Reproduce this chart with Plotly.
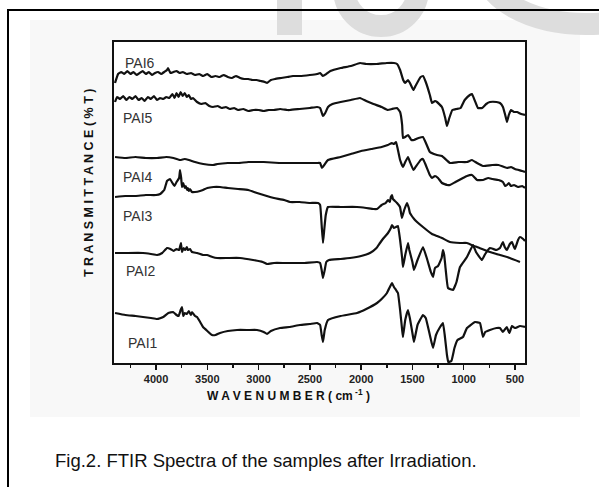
import plotly.graph_objects as go

# Wavenumber (cm-1) and curve heights (offset transmittance, plotted top-down)
pai6_wn = [4400, 4370, 4340, 4310, 4280, 4250, 4220, 4190, 4160, 4130, 4100, 4070, 4040, 4010, 3980, 3950, 3920, 3893, 3883, 3860, 3830, 3800, 3770, 3740, 3700, 3660, 3620, 3580, 3540, 3500, 3460, 3420, 3380, 3340, 3300, 3260, 3220, 3180, 3140, 3100, 3060, 3020, 2980, 2940, 2918, 2880, 2840, 2780, 2720, 2664, 2600, 2500, 2430, 2400, 2372, 2340, 2300, 2200, 2100, 2011, 1950, 1850, 1750, 1680, 1650, 1620, 1590, 1572, 1543, 1524, 1490, 1470, 1420, 1397, 1370, 1330, 1309, 1280, 1260, 1212, 1180, 1163, 1140, 1110, 1070, 1030, 990, 940, 919, 890, 861, 820, 780, 744, 680, 646, 617, 595, 578, 560, 539, 510, 480, 440, 402]
pai6_y = [83, 74, 72, 74, 71, 74, 72, 75, 73, 71, 74, 72, 75, 73, 72, 74, 72, 70, 68, 73, 72, 71, 73, 72, 74, 73, 75, 74, 76, 74, 77, 76, 77, 75, 77, 78, 76, 78, 79, 79, 80, 80, 81, 82, 83, 80, 79, 78, 77, 76, 76, 75, 74, 73, 76, 74, 71, 68, 66, 63, 64, 64, 63, 63, 64, 70, 80, 83, 80, 83, 90, 86, 77, 76, 82, 95, 103, 101, 102, 107, 118, 126, 118, 110, 109, 108, 100, 95, 94, 101, 108, 108, 104, 102, 102, 103, 107, 115, 122, 115, 110, 112, 112, 114, 115]

pai5_wn = [4400, 4380, 4350, 4320, 4290, 4260, 4230, 4200, 4170, 4140, 4110, 4080, 4050, 4020, 3990, 3960, 3930, 3900, 3870, 3840, 3820, 3800, 3780, 3760, 3740, 3720, 3700, 3680, 3660, 3640, 3600, 3560, 3520, 3480, 3444, 3400, 3360, 3320, 3280, 3240, 3200, 3150, 3100, 3050, 3000, 2950, 2900, 2850, 2790, 2720, 2694, 2600, 2500, 2430, 2400, 2372, 2350, 2323, 2280, 2200, 2100, 2011, 1950, 1880, 1800, 1740, 1700, 1650, 1620, 1600, 1592, 1570, 1543, 1510, 1485, 1440, 1397, 1360, 1330, 1290, 1260, 1212, 1134, 1050, 968, 919, 870, 812, 720, 660, 578, 540, 500, 430, 402]
pai5_y = [102, 97, 99, 96, 100, 97, 99, 96, 100, 98, 101, 97, 99, 96, 100, 98, 99, 97, 98, 94, 98, 93, 97, 92, 96, 93, 97, 95, 99, 98, 102, 104, 103, 106, 107, 106, 108, 107, 109, 108, 110, 109, 111, 110, 110, 111, 110, 110, 109, 110, 110, 109, 108, 107, 108, 116, 113, 107, 104, 102, 100, 98, 101, 104, 107, 110, 109, 108, 112, 125, 138, 137, 135, 140, 140, 138, 137, 145, 152, 154, 155, 156, 163, 162, 162, 160, 163, 166, 165, 165, 168, 167, 169, 171, 172]

pai4_wn = [4400, 4300, 4200, 4100, 3990, 3900, 3830, 3766, 3720, 3680, 3620, 3540, 3444, 3400, 3300, 3200, 3100, 3015, 2950, 2800, 2694, 2550, 2430, 2400, 2382, 2360, 2323, 2200, 2100, 2000, 1900, 1800, 1740, 1700, 1680, 1660, 1645, 1620, 1592, 1570, 1543, 1524, 1490, 1475, 1420, 1397, 1370, 1330, 1309, 1280, 1250, 1212, 1160, 1134, 1080, 1007, 968, 919, 870, 812, 760, 720, 660, 617, 595, 578, 560, 540, 510, 470, 430, 402]
pai4_y = [157, 158, 157, 158, 158, 157, 158, 160, 159, 160, 162, 164, 165, 164, 163, 163, 162, 162, 162, 163, 163, 163, 163, 163, 168, 165, 160, 157, 154, 151, 149, 147, 145, 143, 144, 142, 148, 160, 167, 162, 157, 162, 170, 168, 160, 159, 165, 175, 178, 176, 178, 183, 185, 185, 182, 178, 176, 175, 180, 180, 178, 179, 180, 182, 186, 185, 183, 186, 185, 187, 186, 188]

pai3_wn = [4400, 4300, 4200, 4100, 4000, 3960, 3920, 3893, 3864, 3840, 3820, 3800, 3775, 3766, 3755, 3747, 3735, 3720, 3710, 3698, 3690, 3680, 3669, 3650, 3620, 3571, 3542, 3500, 3440, 3376, 3300, 3200, 3100, 3015, 2920, 2850, 2750, 2694, 2600, 2500, 2420, 2400, 2385, 2372, 2360, 2345, 2323, 2200, 2040, 1950, 1880, 1845, 1800, 1760, 1738, 1720, 1710, 1699, 1690, 1670, 1650, 1621, 1602, 1580, 1553, 1535, 1524, 1475, 1397, 1309, 1260, 1212, 1134, 1036, 968, 900, 870, 744, 646, 550, 451]
pai3_y = [197, 196, 196, 195, 195, 194, 190, 181, 179, 183, 186, 182, 178, 170, 178, 187, 183, 188, 186, 190, 188, 191, 189, 192, 192, 191, 190, 188, 187, 187, 188, 189, 190, 193, 196, 198, 200, 202, 202, 203, 203, 205, 225, 243, 230, 215, 207, 207, 207, 208, 209, 209, 205, 203, 200, 202, 197, 195, 199, 201, 203, 207, 218, 210, 203, 208, 213, 220, 227, 234, 236, 238, 242, 243, 243, 246, 247, 252, 255, 258, 262]

pai2_wn = [4400, 4300, 4127, 4050, 3990, 3940, 3893, 3860, 3830, 3800, 3775, 3757, 3747, 3730, 3717, 3700, 3690, 3669, 3650, 3600, 3542, 3503, 3450, 3405, 3300, 3181, 3054, 2960, 2918, 2850, 2750, 2664, 2550, 2430, 2400, 2385, 2372, 2355, 2340, 2313, 2200, 2109, 2000, 1914, 1850, 1816, 1780, 1738, 1710, 1699, 1680, 1660, 1641, 1620, 1600, 1592, 1570, 1543, 1530, 1500, 1485, 1450, 1397, 1360, 1320, 1299, 1280, 1250, 1215, 1202, 1190, 1175, 1153, 1104, 1070, 1036, 968, 909, 880, 822, 790, 744, 680, 646, 617, 600, 578, 550, 529, 510, 500, 470, 451, 420, 402]
pai2_y = [253, 253, 253, 254, 255, 253, 248, 249, 251, 249, 250, 243, 252, 248, 250, 247, 250, 249, 252, 253, 255, 255, 257, 258, 258, 258, 260, 262, 264, 263, 263, 263, 263, 262, 263, 270, 278, 270, 262, 260, 259, 258, 256, 253, 248, 243, 238, 233, 228, 225, 228, 227, 226, 240, 258, 267, 255, 243, 250, 262, 270, 260, 247, 258, 272, 277, 268, 266, 258, 250, 255, 270, 288, 290, 282, 267, 257, 245, 252, 260, 254, 248, 250, 248, 242, 247, 250, 244, 242, 247, 249, 240, 237, 239, 241]

pai1_wn = [4400, 4300, 4200, 4127, 4050, 3990, 3930, 3880, 3834, 3800, 3780, 3760, 3747, 3735, 3720, 3700, 3680, 3660, 3649, 3620, 3600, 3570, 3542, 3500, 3454, 3420, 3376, 3300, 3210, 3100, 3015, 2950, 2918, 2880, 2791, 2700, 2596, 2500, 2430, 2400, 2385, 2372, 2355, 2323, 2200, 2040, 1950, 1845, 1800, 1748, 1720, 1699, 1680, 1660, 1641, 1620, 1600, 1592, 1570, 1543, 1525, 1500, 1485, 1450, 1397, 1370, 1330, 1299, 1270, 1230, 1202, 1185, 1163, 1150, 1120, 1090, 1060, 1007, 968, 890, 841, 812, 790, 744, 680, 646, 617, 580, 555, 529, 500, 451, 402]
pai1_y = [313, 315, 316, 317, 318, 319, 317, 313, 312, 315, 316, 310, 307, 316, 313, 314, 311, 315, 312, 316, 317, 322, 327, 331, 335, 335, 333, 331, 330, 330, 330, 332, 334, 331, 328, 327, 325, 324, 323, 325, 335, 342, 330, 320, 316, 313, 309, 303, 299, 293, 287, 283, 287, 290, 293, 310, 330, 337, 320, 310, 318, 333, 342, 325, 315, 318, 335, 348, 335, 327, 323, 335, 355, 362, 361, 348, 340, 337, 328, 322, 323, 337, 332, 330, 328, 328, 332, 327, 333, 326, 328, 326, 327]

series_names = ["PAI6", "PAI5", "PAI4", "PAI3", "PAI2", "PAI1"]
series_wn = [pai6_wn, pai5_wn, pai4_wn, pai3_wn, pai2_wn, pai1_wn]
series_y = [pai6_y, pai5_y, pai4_y, pai3_y, pai2_y, pai1_y]

x_ticks = [4000, 3500, 3000, 2500, 2000, 1500, 1000, 500]
x_minor = [4250, 3750, 3250, 2750, 2250, 1750, 1250, 750]

W, H = 599, 487
L, R, T, B = 114, 525, 42, 363
FONT = "Arial, Liberation Sans"


def px(x):
    return (x - L) / (R - L)


def py(y):
    return (B - y) / (B - T)


fig = go.Figure()
for name, wn, yv in zip(series_names, series_wn, series_y):
    fig.add_trace(go.Scatter(x=wn, y=yv, mode="lines", name=name,
                             line=dict(color="#111111", width=2.2, shape="spline", smoothing=0.3),
                             showlegend=False, hoverinfo="skip"))

label_pos = [(140, 63), (138, 118), (138, 177), (138, 216), (141, 271), (143, 343)]
annotations = []
for name, (lx, ly) in zip(series_names, label_pos):
    annotations.append(dict(x=px(lx), y=py(ly), xref="paper", yref="paper", text=name,
                            xanchor="center", yanchor="middle", showarrow=False,
                            font=dict(family=FONT, size=14, color="#333333")))

annotations.append(dict(x=px(288), y=py(395), xref="paper", yref="paper", xanchor="center", yanchor="middle",
                        text="<b>W A V E N U M B E R ( cm<sup> -1</sup> )</b>", showarrow=False,
                        font=dict(family=FONT, size=12, color="#111111")))
annotations.append(dict(x=px(89), y=py(183), xref="paper", yref="paper", textangle=-90,
                        xanchor="center", yanchor="middle",
                        text="<b>T R A N S M I T T A N C E ( % T )</b>", showarrow=False,
                        font=dict(family=FONT, size=12.5, color="#111111")))
annotations.append(dict(x=px(266), y=py(460), xref="paper", yref="paper", xanchor="center", yanchor="middle",
                        text="Fig.2. FTIR Spectra of the samples after Irradiation.", showarrow=False,
                        font=dict(family=FONT, size=18.5, color="#111111")))

shapes = [
    dict(type="rect", xref="paper", yref="paper", x0=px(30), x1=px(580), y0=py(417), y1=py(20),
         fillcolor="#f8f8f8", line=dict(width=0), layer="below"),
    dict(type="rect", xref="paper", yref="paper", x0=0, x1=1, y0=0, y1=1,
         fillcolor="white", line=dict(width=0), layer="below"),
    dict(type="rect", xref="paper", yref="paper", x0=px(277), x1=px(302), y0=py(35), y1=py(-5),
         fillcolor="#dddddd", line=dict(width=0), layer="below"),
    dict(type="circle", xref="paper", yref="paper", x0=px(344), x1=px(418), y0=py(26), y1=py(-48),
         fillcolor="rgba(0,0,0,0)", line=dict(width=22, color="#dddddd"), layer="below"),
    dict(type="circle", xref="paper", yref="paper", x0=px(484), x1=px(690), y0=py(24), y1=py(-90),
         fillcolor="rgba(0,0,0,0)", line=dict(width=22, color="#dddddd"), layer="below"),
    dict(type="rect", xref="paper", yref="paper", x0=px(8), x1=px(640), y0=py(520), y1=py(10),
         fillcolor="rgba(0,0,0,0)", line=dict(width=2, color="#000000")),
]

fig.update_layout(
    width=W, height=H,
    margin=dict(l=L, r=W - R, t=T, b=H - B),
    paper_bgcolor="white", plot_bgcolor="rgba(0,0,0,0)",
    annotations=annotations, shapes=shapes,
    xaxis=dict(range=[4410, 402], tickvals=x_ticks, ticktext=[f"<b>{v}</b>" for v in x_ticks],
               ticks="outside", ticklen=5, tickwidth=1.5, tickcolor="#111111",
               minor=dict(tickvals=x_minor, ticks="outside",
                          ticklen=3, tickwidth=1.5, tickcolor="#111111", showgrid=False),
               showline=True, linewidth=2, linecolor="#111111", mirror=True, showgrid=False, zeroline=False,
               tickfont=dict(family=FONT, size=11, color="#222222")),
    yaxis=dict(range=[363, 42], showticklabels=False, ticks="", showline=True, linewidth=2,
               linecolor="#111111", mirror=True, showgrid=False, zeroline=False),
)

fig.write_html("out.html", config={"displayModeBar": False, "staticPlot": True},
               post_script="document.body.style.margin='0';document.body.style.overflow='hidden';")
